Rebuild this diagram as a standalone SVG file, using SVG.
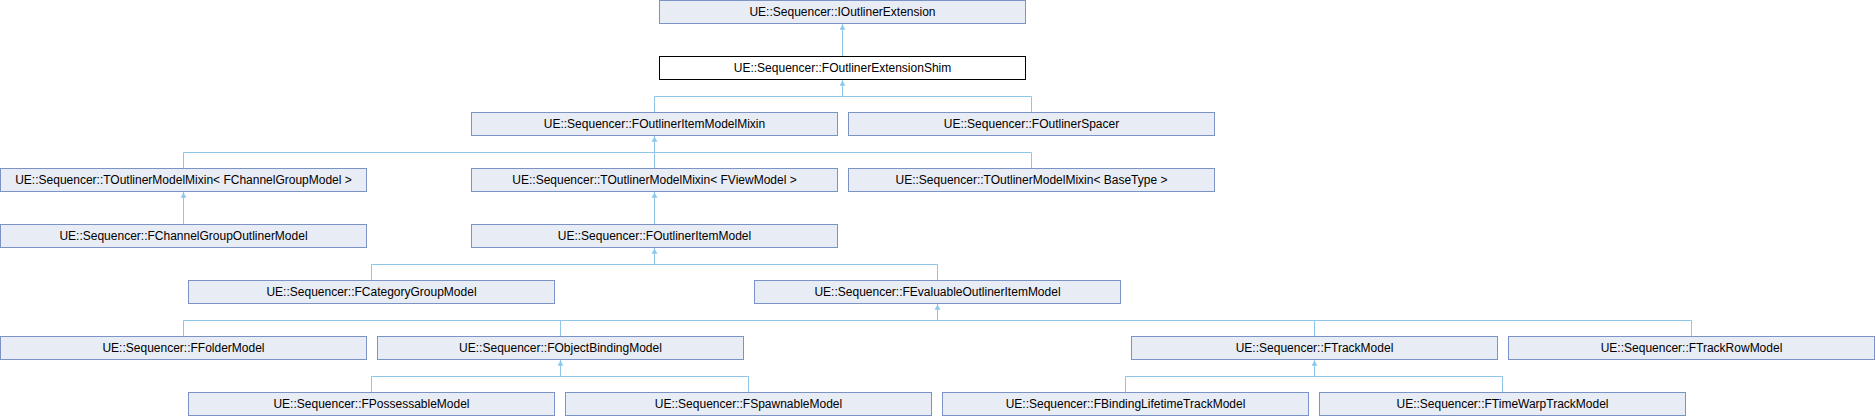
<svg xmlns="http://www.w3.org/2000/svg" width="1875" height="416" viewBox="0 0 1875 416">
<style>
.n rect{fill:#e8ecf5;stroke:#7b93c6;stroke-width:1}
.n.cur rect{fill:#ffffff;stroke:#000000}
.n text{font-family:"Liberation Sans",Arial,sans-serif;font-size:12px;fill:#000;text-anchor:middle}
.e path{fill:none;stroke:#8ec6ea;stroke-width:1}
.e use{fill:#8ec6ea;stroke:#8ec6ea;stroke-width:0.5}
</style>
<defs>
<path id="ah" d="M0,1.5 L-2.5,6 L2.5,6 Z"/>
</defs>
<rect x="0" y="0" width="1875" height="416" fill="#ffffff"/>
<g class="e" id="connectors">
<path d="M842.5,56.5V23.5"/>
<use href="#ah" x="842.5" y="23.5"/>
<path d="M654.5,112.5V96.5H1031.5V112.5M842.5,96.5V79.5"/>
<use href="#ah" x="842.5" y="79.5"/>
<path d="M183.5,168.5V152.5H1031.5V168.5M654.5,168.5V135.5"/>
<use href="#ah" x="654.5" y="135.5"/>
<path d="M183.5,224.5V191.5"/>
<use href="#ah" x="183.5" y="191.5"/>
<path d="M654.5,224.5V191.5"/>
<use href="#ah" x="654.5" y="191.5"/>
<path d="M371.5,280.5V264.5H937.5V280.5M654.5,264.5V247.5"/>
<use href="#ah" x="654.5" y="247.5"/>
<path d="M183.5,336.5V320.5H1691.5V336.5M560.5,320.5V336.5M1314.5,320.5V336.5M937.5,320.5V303.5"/>
<use href="#ah" x="937.5" y="303.5"/>
<path d="M371.5,392.5V376.5H748.5V392.5M560.5,376.5V359.5"/>
<use href="#ah" x="560.5" y="359.5"/>
<path d="M1125.5,392.5V376.5H1502.5V392.5M1314.5,376.5V359.5"/>
<use href="#ah" x="1314.5" y="359.5"/>
</g>
<g class="n" id="IOutlinerExtension"><rect x="659.5" y="0.5" width="366" height="23"/><text x="842.5" y="15.5">UE::Sequencer::IOutlinerExtension</text></g>
<g class="n cur" id="FOutlinerExtensionShim"><rect x="659.5" y="56.5" width="366" height="23"/><text x="842.5" y="71.5">UE::Sequencer::FOutlinerExtensionShim</text></g>
<g class="n" id="FOutlinerItemModelMixin"><rect x="471.5" y="112.5" width="366" height="23"/><text x="654.5" y="127.5">UE::Sequencer::FOutlinerItemModelMixin</text></g>
<g class="n" id="FOutlinerSpacer"><rect x="848.5" y="112.5" width="366" height="23"/><text x="1031.5" y="127.5">UE::Sequencer::FOutlinerSpacer</text></g>
<g class="n" id="TOutlinerModelMixin_FChannelGroupModel"><rect x="0.5" y="168.5" width="366" height="23"/><text x="183.5" y="183.5" xml:space="preserve">UE::Sequencer::TOutlinerModelMixin&lt; FChannelGroupModel &gt;</text></g>
<g class="n" id="TOutlinerModelMixin_FViewModel"><rect x="471.5" y="168.5" width="366" height="23"/><text x="654.5" y="183.5" xml:space="preserve">UE::Sequencer::TOutlinerModelMixin&lt; FViewModel &gt;</text></g>
<g class="n" id="TOutlinerModelMixin_BaseType"><rect x="848.5" y="168.5" width="366" height="23"/><text x="1031.5" y="183.5" xml:space="preserve">UE::Sequencer::TOutlinerModelMixin&lt; BaseType &gt;</text></g>
<g class="n" id="FChannelGroupOutlinerModel"><rect x="0.5" y="224.5" width="366" height="23"/><text x="183.5" y="239.5">UE::Sequencer::FChannelGroupOutlinerModel</text></g>
<g class="n" id="FOutlinerItemModel"><rect x="471.5" y="224.5" width="366" height="23"/><text x="654.5" y="239.5">UE::Sequencer::FOutlinerItemModel</text></g>
<g class="n" id="FCategoryGroupModel"><rect x="188.5" y="280.5" width="366" height="23"/><text x="371.5" y="295.5">UE::Sequencer::FCategoryGroupModel</text></g>
<g class="n" id="FEvaluableOutlinerItemModel"><rect x="754.5" y="280.5" width="366" height="23"/><text x="937.5" y="295.5">UE::Sequencer::FEvaluableOutlinerItemModel</text></g>
<g class="n" id="FFolderModel"><rect x="0.5" y="336.5" width="366" height="23"/><text x="183.5" y="351.5">UE::Sequencer::FFolderModel</text></g>
<g class="n" id="FObjectBindingModel"><rect x="377.5" y="336.5" width="366" height="23"/><text x="560.5" y="351.5">UE::Sequencer::FObjectBindingModel</text></g>
<g class="n" id="FTrackModel"><rect x="1131.5" y="336.5" width="366" height="23"/><text x="1314.5" y="351.5">UE::Sequencer::FTrackModel</text></g>
<g class="n" id="FTrackRowModel"><rect x="1508.5" y="336.5" width="366" height="23"/><text x="1691.5" y="351.5">UE::Sequencer::FTrackRowModel</text></g>
<g class="n" id="FPossessableModel"><rect x="188.5" y="392.5" width="366" height="23"/><text x="371.5" y="407.5">UE::Sequencer::FPossessableModel</text></g>
<g class="n" id="FSpawnableModel"><rect x="565.5" y="392.5" width="366" height="23"/><text x="748.5" y="407.5">UE::Sequencer::FSpawnableModel</text></g>
<g class="n" id="FBindingLifetimeTrackModel"><rect x="942.5" y="392.5" width="366" height="23"/><text x="1125.5" y="407.5">UE::Sequencer::FBindingLifetimeTrackModel</text></g>
<g class="n" id="FTimeWarpTrackModel"><rect x="1319.5" y="392.5" width="366" height="23"/><text x="1502.5" y="407.5">UE::Sequencer::FTimeWarpTrackModel</text></g>
</svg>
